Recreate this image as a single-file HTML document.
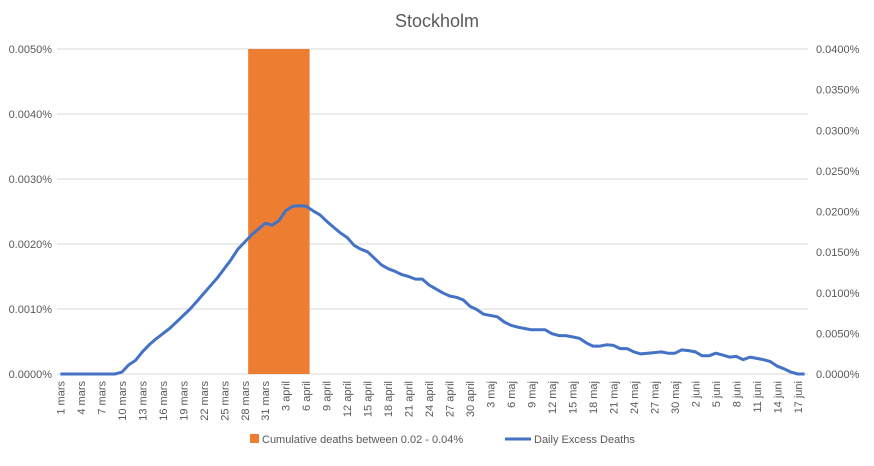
<!DOCTYPE html>
<html><head><meta charset="utf-8"><style>
body{margin:0;background:#fff;}
svg text{font-family:"Liberation Sans",sans-serif;fill:#595959;}
</style></head><body>
<svg id="chart" width="874" height="461">
<text x="437" y="27" text-anchor="middle" font-size="18">Stockholm</text>
<g id="grid"></g><g id="bars"></g><g id="lines"></g><g id="axes"></g>
<g>
<rect x="250" y="434" width="9" height="9" fill="#ED7D31"/>
<text x="262" y="443" font-size="11">Cumulative deaths between 0.02 - 0.04%</text>
<line x1="505" y1="439" x2="531" y2="439" stroke="#4472C4" stroke-width="3"/>
<text x="534" y="443" font-size="11">Daily Excess Deaths</text>
</g>
</svg>
<script>
const months = ["mars","april","maj","juni"];
const monthLengths = [31,30,31,30];
const dailyDeaths = [0,0,0,0,0,0,0,0,0,0.3,1.4,2.1,3.4,4.5,5.4,6.2,7.0,8.0,9.0,10.0,11.2,12.4,13.6,14.8,16.2,17.6,19.2,20.3,21.4,22.3,23.2,22.9,23.6,25.1,25.8,25.9,25.8,25.1,24.5,23.5,22.6,21.7,21.0,19.8,19.2,18.8,17.8,16.8,16.2,15.8,15.3,15.0,14.6,14.6,13.7,13.1,12.5,12.0,11.8,11.4,10.4,9.9,9.2,9.0,8.8,8.0,7.5,7.2,7.0,6.8,6.8,6.8,6.2,5.9,5.9,5.7,5.5,4.8,4.3,4.3,4.5,4.4,3.9,3.9,3.4,3.1,3.2,3.3,3.4,3.2,3.2,3.7,3.6,3.4,2.8,2.8,3.2,2.9,2.6,2.7,2.2,2.6,2.4,2.2,1.9,1.2,0.8,0.3,0,0]; // units of 0.0001%
const barStart = 28, barEnd = 36, barValue = 0.04; // secondary axis (%)
const leftTicks = [0,0.001,0.002,0.003,0.004,0.005];
const rightTicks = [0,0.005,0.01,0.015,0.02,0.025,0.03,0.035,0.04];

const NS="http://www.w3.org/2000/svg";
const X0=57,X1=808,Y0=374,Y1=49;
const n=dailyDeaths.length, bw=(X1-X0)/n;
const xC=i=>X0+(i+0.5)*bw;
const yL=v=>Y0-(v/10000)/0.005*(Y0-Y1); // v in 0.0001% units -> percent
const yLp=p=>Y0-p/0.005*(Y0-Y1);
const yR=p=>Y0-p/0.04*(Y0-Y1);
function mk(tag,attrs,parent){const e=document.createElementNS(NS,tag);for(const k in attrs)e.setAttribute(k,attrs[k]);document.getElementById(parent).appendChild(e);return e;}
const labels=[];
for(let m=0;m<months.length;m++)for(let d=1;d<=monthLengths[m];d++)labels.push(d+" "+months[m]);

leftTicks.forEach((t,i)=>{
  const y=yLp(t);
  const g=mk("line",{x1:X0,x2:X1,y1:y,y2:y,stroke:"#d9d9d9","stroke-width":1},"grid");
  
  
  const tx=mk("text",{x:52,y:y+4,"text-anchor":"end","font-size":11},"axes");
  tx.textContent=t.toFixed(4)+"%";
  
  
});
rightTicks.forEach(t=>{
  const y=yR(t);
  const tx=mk("text",{x:816,y:y+4,"font-size":11},"axes");
  tx.textContent=t.toFixed(4)+"%";
  
  
});
const bar=mk("rect",{x:X0+barStart*bw,y:yR(barValue),width:(barEnd-barStart+1)*bw,height:Y0-yR(barValue),fill:"#ED7D31"},"bars");


const pts=dailyDeaths.map((v,i)=>xC(i).toFixed(1)+","+yL(v).toFixed(1)).join(" ");
const pl=mk("polyline",{points:pts,fill:"none",stroke:"#4472C4","stroke-width":3,"stroke-linejoin":"round"},"lines");


for(let i=0;i<n;i+=3){
  const x=xC(i)+4;
  const tx=mk("text",{x:x,y:381,"text-anchor":"end","font-size":11,transform:"rotate(-90 "+x+" 381)"},"axes");
  tx.textContent=labels[i];
  
  
}
</script>
</body></html>
